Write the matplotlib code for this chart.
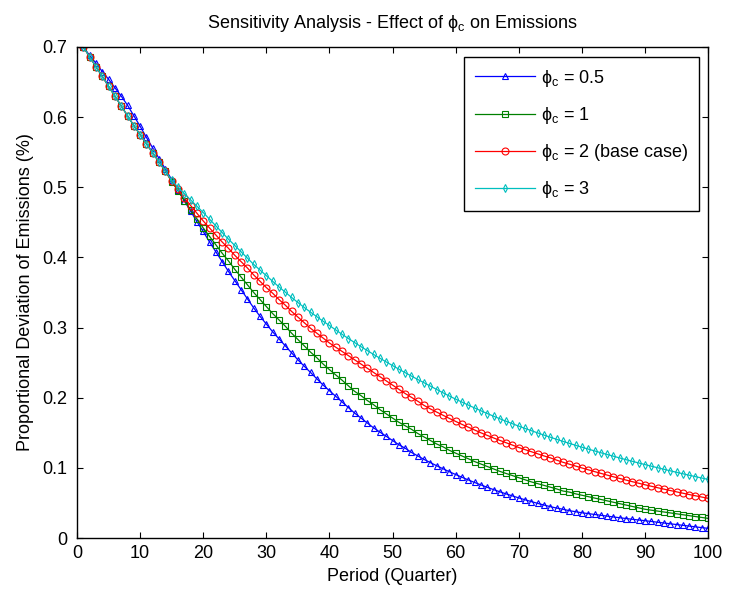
import numpy as np
import matplotlib
matplotlib.use("Agg")
import matplotlib.pyplot as plt

plt.rcParams['font.family'] = ['Liberation Sans', 'DejaVu Sans']
plt.rcParams['mathtext.fontset'] = 'custom'
plt.rcParams['mathtext.rm'] = 'Liberation Sans'
plt.rcParams['mathtext.it'] = 'Liberation Sans'
plt.rcParams['mathtext.sf'] = 'Liberation Sans'

# Periods 1..100 (quarters)
periods = np.arange(1, 101)

# Values, one per quarter
phi_05 = [0.700, 0.688, 0.677, 0.665, 0.654, 0.642, 0.630, 0.617, 0.602, 0.587,
          0.571, 0.556, 0.541, 0.526, 0.511, 0.496, 0.481, 0.466, 0.451, 0.437,
          0.422, 0.408, 0.394, 0.380, 0.367, 0.354, 0.341, 0.328, 0.316, 0.305,
          0.294, 0.284, 0.274, 0.264, 0.254, 0.245, 0.236, 0.227, 0.218, 0.210,
          0.202, 0.194, 0.186, 0.178, 0.171, 0.164, 0.157, 0.151, 0.145, 0.139,
          0.133, 0.128, 0.122, 0.117, 0.112, 0.1075, 0.103, 0.0987, 0.0945, 0.0905,
          0.0866, 0.0828, 0.0792, 0.0757, 0.0723, 0.069, 0.0659, 0.0629, 0.060, 0.0572,
          0.0545, 0.0519, 0.0494, 0.047, 0.0447, 0.0427, 0.041, 0.039, 0.0375, 0.036,
          0.0348, 0.0336, 0.0324, 0.0312, 0.030, 0.0289, 0.0278, 0.0267, 0.0257, 0.0247,
          0.0236, 0.0225, 0.0214, 0.0203, 0.0192, 0.0181, 0.0170, 0.0159, 0.0148, 0.0138]

phi_1 = [0.700, 0.686, 0.672, 0.658, 0.644, 0.630, 0.616, 0.602, 0.588, 0.575,
         0.562, 0.549, 0.536, 0.523, 0.508, 0.495, 0.481, 0.468, 0.455, 0.442,
         0.430, 0.418, 0.406, 0.395, 0.383, 0.372, 0.361, 0.350, 0.340, 0.330,
         0.320, 0.311, 0.302, 0.292, 0.283, 0.274, 0.265, 0.257, 0.248, 0.240,
         0.2325, 0.225, 0.217, 0.209, 0.203, 0.196, 0.190, 0.183, 0.177, 0.171,
         0.165, 0.160, 0.155, 0.149, 0.144, 0.139, 0.134, 0.130, 0.125, 0.121,
         0.117, 0.113, 0.109, 0.1055, 0.102, 0.0985, 0.095, 0.092, 0.089, 0.086,
         0.083, 0.080, 0.0775, 0.075, 0.0725, 0.070, 0.067, 0.0655, 0.063, 0.061,
         0.059, 0.057, 0.055, 0.053, 0.051, 0.049, 0.047, 0.045, 0.043, 0.041,
         0.0397, 0.0384, 0.0371, 0.0358, 0.0345, 0.0332, 0.0319, 0.0306, 0.0293, 0.028]

phi_2 = [0.700, 0.686, 0.672, 0.658, 0.644, 0.630, 0.616, 0.602, 0.588, 0.575,
         0.562, 0.549, 0.536, 0.523, 0.509, 0.497, 0.485, 0.474, 0.463, 0.452,
         0.442, 0.432, 0.422, 0.413, 0.403, 0.394, 0.385, 0.375, 0.366, 0.357,
         0.349, 0.340, 0.332, 0.323, 0.315, 0.307, 0.299, 0.292, 0.285, 0.278,
         0.272, 0.266, 0.260, 0.254, 0.248, 0.242, 0.236, 0.230, 0.224, 0.218,
         0.212, 0.206, 0.2005, 0.195, 0.189, 0.184, 0.1795, 0.175, 0.1705, 0.1662,
         0.162, 0.158, 0.154, 0.150, 0.1463, 0.1427, 0.1392, 0.1358, 0.1325, 0.129,
         0.126, 0.123, 0.120, 0.117, 0.1143, 0.111, 0.108, 0.1053, 0.1026, 0.0999,
         0.0973, 0.0947, 0.0922, 0.0897, 0.0873, 0.0849, 0.0826, 0.0803, 0.0781, 0.0759,
         0.0738, 0.0717, 0.0697, 0.0677, 0.0658, 0.0639, 0.062, 0.0602, 0.0584, 0.0566]

phi_3 = [0.700, 0.686, 0.672, 0.658, 0.644, 0.630, 0.616, 0.602, 0.588, 0.575,
         0.562, 0.549, 0.536, 0.523, 0.510, 0.500, 0.491, 0.482, 0.473, 0.464,
         0.4545, 0.445, 0.4355, 0.426, 0.417, 0.408, 0.399, 0.390, 0.382, 0.374,
         0.366, 0.358, 0.3505, 0.343, 0.3357, 0.3287, 0.322, 0.3155, 0.309, 0.303,
         0.2966, 0.2904, 0.2844, 0.2785, 0.2728, 0.2672, 0.2617, 0.2563, 0.251, 0.2458,
         0.2407, 0.2357, 0.2308, 0.226, 0.2213, 0.2165, 0.2117, 0.207, 0.2024, 0.198,
         0.1937, 0.1895, 0.1854, 0.1814, 0.1775, 0.1737, 0.170, 0.1664, 0.1629, 0.1595,
         0.1562, 0.153, 0.1498, 0.1467, 0.1437, 0.1407, 0.1378, 0.135, 0.1322, 0.1295,
         0.1268, 0.1242, 0.1216, 0.1191, 0.1166, 0.1141, 0.1117, 0.1093, 0.107, 0.1047,
         0.1024, 0.1002, 0.098, 0.0958, 0.0937, 0.0916, 0.0895, 0.0875, 0.0855, 0.0836]

labels = [r'$\mathrm{\phi_c}$ = 0.5', r'$\mathrm{\phi_c}$ = 1',
          r'$\mathrm{\phi_c}$ = 2 (base case)', r'$\mathrm{\phi_c}$ = 3']
x_ticks = [0, 10, 20, 30, 40, 50, 60, 70, 80, 90, 100]
y_ticks = [0, 0.1, 0.2, 0.3, 0.4, 0.5, 0.6, 0.7]
y_tick_labels = ['0', '0.1', '0.2', '0.3', '0.4', '0.5', '0.6', '0.7']

fig = plt.figure(figsize=(7.30, 5.97), dpi=100)
ax = fig.add_axes([0.1055, 0.0988, 0.8645, 0.8225])

styles = [('#0000ff', '^', 4.5), ('#008000', 's', 5), ('#ff0000', 'o', 5), ('#00bfbf', 'd', 4)]
for data, lab, (col, mk, ms) in zip([phi_05, phi_1, phi_2, phi_3], labels, styles):
    ax.plot(periods, data, color=col, marker=mk, markersize=ms, markerfacecolor='none',
            markeredgecolor=col, markeredgewidth=0.8, linewidth=0.9, label=lab)

ax.set_xlim(0, 100)
ax.set_ylim(0, 0.7)
ax.set_xticks(x_ticks)
ax.set_yticks(y_ticks)
ax.set_yticklabels(y_tick_labels)
ax.tick_params(direction='in', top=True, right=True, length=4, width=0.8, labelsize=13)
ax.tick_params(axis='y', pad=7)
ax.tick_params(axis='x', pad=5)
for s in ax.spines.values():
    s.set_linewidth(1.0)

ax.set_xlabel('Period (Quarter)', fontsize=13, labelpad=4)
ax.set_ylabel('Proportional Deviation of Emissions (%)', fontsize=13, labelpad=6)
ax.set_title(r'Sensitivity Analysis - Effect of $\mathrm{\phi_c}$ on Emissions', fontsize=13, pad=14)

leg = ax.legend(loc='upper right', numpoints=1, fontsize=13, fancybox=False,
                edgecolor='black', framealpha=1, handlelength=3.3,
                borderpad=0.6, labelspacing=0.9, handletextpad=0.35,
                borderaxespad=0.0, bbox_to_anchor=(0.986, 0.98))
leg.get_frame().set_linewidth(1.0)

fig.savefig('out.png', dpi=100)
